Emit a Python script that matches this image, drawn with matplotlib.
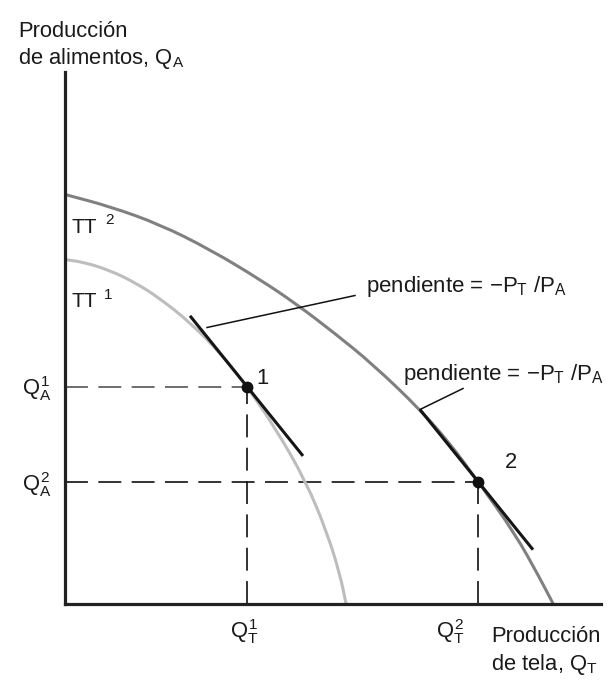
import matplotlib
matplotlib.use("Agg")
import matplotlib.pyplot as plt
from matplotlib.path import Path
from matplotlib.patches import PathPatch

# ---------------- data (axis units, origin at the axes corner) ----------------
tt1_x = [0, 20, 45, 70, 95, 125, 155, 182, 210, 241, 262, 275, 281]
tt1_y = [344, 341, 333, 321, 305, 281, 251, 217, 176, 122, 71, 29, 0]
tt2_x = [0, 45, 95, 145, 195, 232, 270, 308, 355, 385, 413, 450, 475, 488]
tt2_y = [409, 397, 379, 354, 324, 299, 270, 239, 194, 160, 122, 70, 25, 0]

eq_x = [182, 413]          # Q_T^1, Q_T^2
eq_y = [217, 122]          # Q_A^1, Q_A^2
eq_labels = ["1", "2"]
tan_slope = [-1.24, -1.24]
tan_x0 = [125, 355]
tan_x1 = [238, 468]

# ---------------- style ----------------
plt.rcParams['font.family'] = ['Liberation Sans', 'DejaVu Sans']
plt.rcParams['mathtext.fontset'] = 'custom'
plt.rcParams['mathtext.rm'] = 'Liberation Sans'
plt.rcParams['mathtext.it'] = 'Liberation Sans'
plt.rcParams['mathtext.bf'] = 'Liberation Sans:bold'
plt.rcParams['lines.scale_dashes'] = False

W, H = 616, 696
fig = plt.figure(figsize=(W / 100, H / 100), dpi=100)
ax = fig.add_axes([65 / W, (H - 603.5) / H, 536 / W, 531.5 / H])
ax.set_xlim(0, 536)
ax.set_ylim(0, 531.5)
ax.set_xticks([])
ax.set_yticks([])
for s in ['top', 'right']:
    ax.spines[s].set_visible(False)
for s in ['left', 'bottom']:
    ax.spines[s].set_linewidth(2.3)
    ax.spines[s].set_color('#222222')
    ax.spines[s].set_zorder(6)


def smooth_curve(xs, ys, **kw):
    """Draw a smooth quadratic-Bezier path through the read points."""
    pts = list(zip(xs, ys))
    verts = [pts[0], ((pts[0][0] + pts[1][0]) / 2, (pts[0][1] + pts[1][1]) / 2)]
    codes = [Path.MOVETO, Path.LINETO]
    for i in range(1, len(pts) - 1):
        nxt = pts[i + 1]
        mid = ((pts[i][0] + nxt[0]) / 2, (pts[i][1] + nxt[1]) / 2)
        verts += [pts[i], mid]
        codes += [Path.CURVE3, Path.CURVE3]
    verts.append(pts[-1])
    codes.append(Path.LINETO)
    patch = PathPatch(Path(verts, codes), fill=False, transform=ax.transData,
                      capstyle='butt', joinstyle='round', clip_on=False, **kw)
    ax.add_patch(patch)


dash = (0, (16.5, 7.5))
# dashed guides
ax.plot([0, eq_x[0]], [eq_y[0], eq_y[0]], color='#555555', lw=1.2, ls=dash, zorder=1, clip_on=False)
ax.plot([eq_x[0], eq_x[0]], [0, eq_y[0]], color='#111111', lw=1.2, ls=dash, zorder=1, clip_on=False)
ax.plot([0, eq_x[1]], [eq_y[1], eq_y[1]], color='#111111', lw=1.2, ls=dash, zorder=1, clip_on=False)
ax.plot([eq_x[1], eq_x[1]], [0, eq_y[1]], color='#111111', lw=1.2, ls=dash, zorder=1, clip_on=False)

# frontier curves
smooth_curve(tt1_x, tt1_y, edgecolor='#bdbdbd', lw=2.2, zorder=2)
smooth_curve(tt2_x, tt2_y, edgecolor='#808080', lw=2.2, zorder=2)

# tangent (price) lines
for x, y, m, a, b in zip(eq_x, eq_y, tan_slope, tan_x0, tan_x1):
    ax.plot([a, b], [y + m * (a - x), y + m * (b - x)], color='#151515', lw=2.2,
            zorder=3, solid_capstyle='butt')

# equilibrium points
ax.plot(eq_x, eq_y, 'o', color='#111111', markersize=7.5, zorder=4)

# leader lines for the slope labels
ax.plot([142, 290], [276, 308], color='#111111', lw=1.1, zorder=3)
ax.plot([355, 398], [194, 215], color='#111111', lw=1.1, zorder=3)


def ftext(x, y, s, **kw):
    kw.setdefault('fontsize', 15.8)
    kw.setdefault('color', '#1a1a1a')
    kw.setdefault('va', 'baseline')
    kw.setdefault('ha', 'left')
    fig.text(x / W, 1 - y / H, s, **kw)


# axis titles
ftext(18, 37, "Producción")
ftext(18, 64, r"de alimentos, $Q_A$")
ftext(491, 642, "Producción")
ftext(491, 670, r"de tela, $Q_T$")

# curve names
ftext(72, 233, "TT", fontsize=15)
ftext(105, 224, "2", fontsize=11)
ftext(72, 307, "TT", fontsize=15)
ftext(104, 299, "1", fontsize=11)

# point labels
ftext(263, 384, eq_labels[0], ha='center')
ftext(511, 468, eq_labels[1], ha='center')

# axis value labels
ftext(22, 395, r"$Q_A^1$")
ftext(22, 491, r"$Q_A^2$")
ftext(230, 638, r"$Q_T^1$")
ftext(436, 638, r"$Q_T^2$")

# slope labels
ftext(366, 292, r"pendiente = $-P_T\ /P_A$", fontsize=16)
ftext(403, 380, r"pendiente = $-P_T\ /P_A$", fontsize=16)

fig.savefig("out.png", dpi=100)
